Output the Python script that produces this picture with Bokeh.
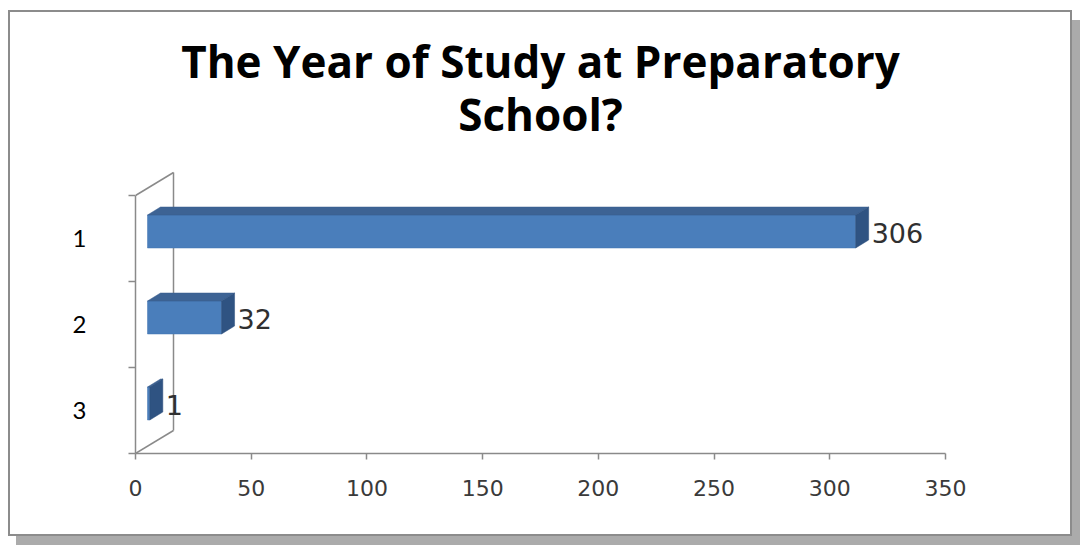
from bokeh.plotting import figure
from bokeh.models import Range1d, FixedTicker
from bokeh.embed import file_html
from bokeh.resources import INLINE
from bokeh.core.properties import value

# ---- data ----
categories = ["1", "2", "3"]
counts = [306, 32, 1]
x_ticks = [0, 50, 100, 150, 200, 250, 300, 350]
title_lines = ["The Year of Study at Preparatory", "School?"]

# ---- layout (pixels) ----
W, H = 1064, 526
FRAME_W = 810
CAT_PX = 86
ML = 125
BOUND_TOP = 183          # canvas y of the top category boundary
MT = 5                   # frame reaches up to hold the title
TOP_PAD = BOUND_TOP - MT
n = len(categories)
MB = H - (BOUND_TOP + n * CAT_PX)
MR = W - ML - FRAME_W
XMAX = 350
TITLE_BASELINES = [48, 101]   # canvas y

px_x = XMAX / FRAME_W
px_y = 1.0 / CAT_PX

# 3D look (pixels)
FRONT_DX, FRONT_DY = 12, 7
DEPTH_DX, DEPTH_DY = 13, 8
BAR_H = 33
WALL_DX, WALL_DY = 38, 23

ypos = [i + 1 for i in range(n)]
y_lo, y_hi = 0.5, n + 0.5

p = figure(width=W, height=H, output_backend="svg", toolbar_location=None,
           x_range=Range1d(0, XMAX), y_range=Range1d(y_hi, y_lo - TOP_PAD * px_y),
           min_border_left=ML, min_border_right=MR, min_border_top=MT,
           min_border_bottom=MB)
p.styles = {"border": "2px solid #8c8c8c", "box-shadow": "8px 10px 0 #ababab",
            "margin-left": "8px", "margin-top": "10px"}
p.outline_line_color = None
p.xgrid.visible = False
p.ygrid.visible = False
p.background_fill_color = "white"
p.border_fill_color = "white"
p.title.visible = False


def canvas_y(cy):
    return y_lo + (cy - BOUND_TOP) * px_y


# title, each line centred over the plot area
p.text(x=[XMAX / 2] * len(title_lines), y=[canvas_y(b) for b in TITLE_BASELINES],
       text=title_lines, text_align="center", text_baseline="alphabetic",
       text_font=value("Open Sans"), text_font_style="bold",
       text_font_size="44px", text_color="black")

AX = "#8a8a8a"
# back wall
wdx, wdy = WALL_DX * px_x, WALL_DY * px_y
p.line([0, wdx], [y_hi, y_hi - wdy], line_color=AX, line_width=1.5)
p.line([0, wdx], [y_lo, y_lo - wdy], line_color=AX, line_width=1.5)
p.line([wdx, wdx], [y_lo - wdy, y_hi - wdy], line_color=AX, line_width=1.5)

# bars
fdx, fdy = FRONT_DX * px_x, FRONT_DY * px_y
ddx, ddy = DEPTH_DX * px_x, DEPTH_DY * px_y
bh = BAR_H * px_y
lefts, rights, tops, bottoms = [], [], [], []
top_xs, top_ys, side_xs, side_ys = [], [], [], []
lab_x, lab_y, lab_t = [], [], []
for yp, v in zip(ypos, counts):
    yc = yp - fdy
    tp, bt = yc - bh / 2, yc + bh / 2
    l, r = fdx, fdx + v
    lefts.append(l); rights.append(r); tops.append(tp); bottoms.append(bt)
    top_xs.append([l, r, r + ddx, l + ddx]); top_ys.append([tp, tp, tp - ddy, tp - ddy])
    side_xs.append([r, r + ddx, r + ddx, r]); side_ys.append([tp, tp - ddy, bt - ddy, bt])
    lab_x.append(r + ddx + 3 * px_x); lab_y.append(yc + 1 * px_y); lab_t.append(str(v))

p.quad(left=lefts, right=rights, top=tops, bottom=bottoms,
       fill_color="#4a7ebb", line_color="#4274b0", line_width=0.5)
p.patches(top_xs, top_ys, fill_color="#3d6394", line_color="#3a5f8e", line_width=0.5)
p.patches(side_xs, side_ys, fill_color="#2f5382", line_color="#2c4f7c", line_width=0.5)

p.text(x=lab_x, y=lab_y, text=lab_t, text_align="left", text_baseline="middle",
       text_font=value("DejaVu Sans"), text_font_size="27px", text_color="#303030")

# axes
xa = p.xaxis[0]
xa.ticker = FixedTicker(ticks=x_ticks)
xa.axis_line_color = AX
xa.axis_line_width = 1.5
xa.major_tick_line_color = AX
xa.major_tick_line_width = 1.5
xa.major_tick_out = 6
xa.major_tick_in = 0
xa.minor_tick_line_color = None
xa.major_label_standoff = 20
xa.major_label_text_font = "DejaVu Sans"
xa.major_label_text_font_size = "22px"
xa.major_label_text_color = "#3a3a3a"

ya = p.yaxis[0]
ya.ticker = FixedTicker(ticks=ypos, minor_ticks=[i + 0.5 for i in range(n + 1)])
ya.bounds = (y_lo, y_hi)
ya.axis_line_color = AX
ya.axis_line_width = 1.5
ya.major_tick_line_color = None
ya.major_tick_out = 0
ya.major_tick_in = 0
ya.minor_tick_line_color = AX
ya.minor_tick_line_width = 1.5
ya.minor_tick_out = 7
ya.minor_tick_in = 0
ya.major_label_overrides = {yp: c for yp, c in zip(ypos, categories)}
ya.major_label_standoff = 42
ya.major_label_text_font = "Lato"
ya.major_label_text_font_size = "24px"
ya.major_label_text_color = "black"

open("out.html", "w").write(file_html(p, INLINE))
